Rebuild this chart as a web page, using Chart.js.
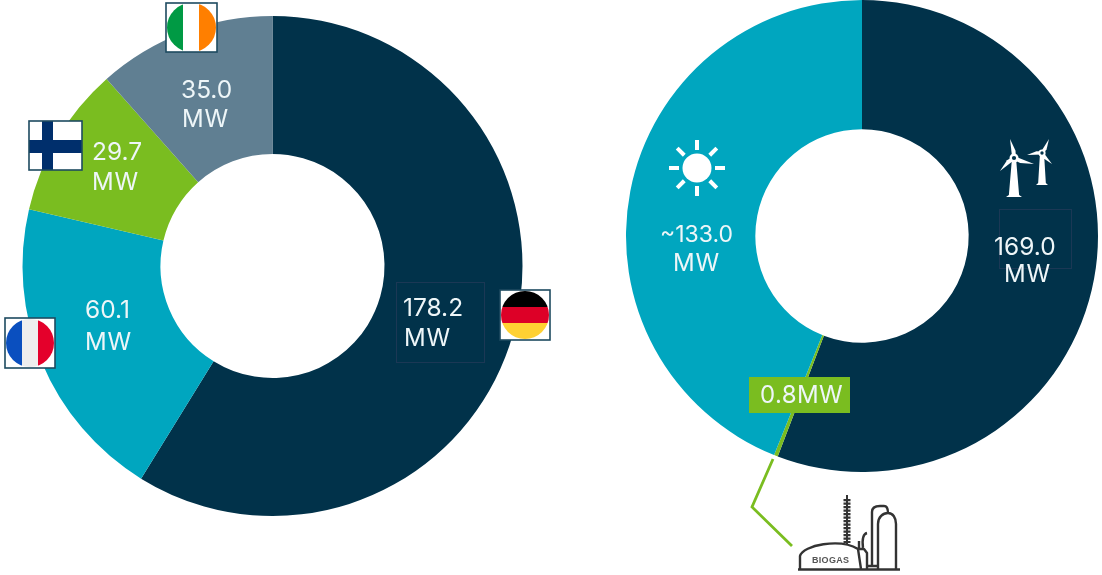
<!DOCTYPE html>
<html>
<head>
<meta charset="utf-8">
<style>
  html, body { margin: 0; padding: 0; background: #fff; overflow: hidden; }
  canvas { position: absolute; top: 0; }
  #countryChart { left: 0; }
  #sourceChart { left: 600px; }
</style>
<script src="https://cdn.jsdelivr.net/npm/chart.js@4"></script>
</head>
<body>
<canvas id="countryChart" width="600" height="575"></canvas>
<canvas id="sourceChart" width="502" height="575"></canvas>
<script>
const countries = ["Germany", "France", "Finland", "Ireland"];
const countryValues = [178.2, 60.1, 29.7, 35.0];
const countryLabels = ["178.2", "60.1", "29.7", "35.0"];

const sources = ["Wind", "Biogas", "Solar"];
const sourceValues = [169.0, 0.8, 133.0];
const sourceLabels = ["169.0", "0.8MW", "~133.0"];
const unit = "MW";

const DARK = "#01324a";
const TEAL = "#00a6bf";
const GREEN = "#7abd20";
const GREY = "#607f92";
const FRAME = "#1d4a60";
const TEXT = "#eef6f8";
const FAMILY = "Inter, 'Liberation Sans', sans-serif";

function twoLines(ctx, top, bottom, size) {
  ctx.font = size + "px " + FAMILY;
  ctx.fillStyle = TEXT;
  ctx.textAlign = "left";
  ctx.textBaseline = "alphabetic";
  ctx.letterSpacing = "0px";
  ctx.fillText(top[0], top[1], top[2]);
  ctx.font = "24px " + FAMILY;
  ctx.letterSpacing = "0.8px";
  ctx.fillText(unit, bottom[0], bottom[1]);
  ctx.letterSpacing = "0px";
}

// flag inside a framed white box, clip is the round flag part
function flag(ctx, x, y, w, h, round, paint) {
  ctx.save();
  ctx.fillStyle = "#fff";
  ctx.fillRect(x, y, w, h);
  ctx.save();
  if (round) {
    ctx.beginPath();
    ctx.arc(x + w / 2, y + h / 2, w / 2 - 1, 0, Math.PI * 2);
    ctx.clip();
  }
  paint();
  ctx.restore();
  ctx.strokeStyle = FRAME;
  ctx.lineWidth = 1.6;
  ctx.strokeRect(x, y, w, h);
  ctx.restore();
}

function drawFlags(ctx) {
  flag(ctx, 166, 3, 51, 49, true, () => {
    ctx.fillStyle = "#009a44"; ctx.fillRect(166, 3, 17, 49);
    ctx.fillStyle = "#ffffff"; ctx.fillRect(183, 3, 16, 49);
    ctx.fillStyle = "#ff7f00"; ctx.fillRect(199, 3, 18, 49);
  });
  flag(ctx, 29, 121, 53, 49, false, () => {
    ctx.fillStyle = "#002f6c";
    ctx.fillRect(42, 121, 11, 49);
    ctx.fillRect(29, 140, 53, 13);
  });
  flag(ctx, 5, 318, 50, 50, true, () => {
    ctx.fillStyle = "#0a4fbf"; ctx.fillRect(5, 318, 17, 50);
    ctx.fillStyle = "#eeeeee"; ctx.fillRect(22, 318, 16, 50);
    ctx.fillStyle = "#e4002b"; ctx.fillRect(38, 318, 17, 50);
  });
  flag(ctx, 500, 290, 50, 50, true, () => {
    ctx.fillStyle = "#000000"; ctx.fillRect(500, 290, 50, 17);
    ctx.fillStyle = "#dd0027"; ctx.fillRect(500, 307, 50, 16);
    ctx.fillStyle = "#ffd133"; ctx.fillRect(500, 323, 50, 17);
  });
}

function drawSun(ctx) {
  const cx = 97, cy = 168;
  ctx.fillStyle = "#fff";
  ctx.beginPath();
  ctx.arc(cx, cy, 14.5, 0, Math.PI * 2);
  ctx.fill();
  ctx.strokeStyle = "#fff";
  ctx.lineWidth = 4;
  for (let i = 0; i < 8; i++) {
    const a = i * Math.PI / 4;
    ctx.beginPath();
    ctx.moveTo(cx + Math.cos(a) * 18, cy + Math.sin(a) * 18);
    ctx.lineTo(cx + Math.cos(a) * 28, cy + Math.sin(a) * 28);
    ctx.stroke();
  }
}

function turbine(ctx, hx, hy, tips, baseY, baseW, bladeW) {
  ctx.fillStyle = "#fff";
  ctx.beginPath();
  ctx.moveTo(hx - 2, hy);
  ctx.lineTo(hx + 2, hy);
  ctx.lineTo(hx + baseW * 0.32, baseY - 2);
  ctx.lineTo(hx + baseW / 2, baseY);
  ctx.lineTo(hx - baseW / 2, baseY);
  ctx.lineTo(hx - baseW * 0.32, baseY - 2);
  ctx.closePath();
  ctx.fill();
  for (const t of tips) {
    const dx = t[0] - hx, dy = t[1] - hy;
    const len = Math.hypot(dx, dy);
    const nx = -dy / len * bladeW, ny = dx / len * bladeW;
    ctx.beginPath();
    ctx.moveTo(hx + nx * 0.6, hy + ny * 0.6);
    ctx.lineTo(hx + dx * 0.35 + nx, hy + dy * 0.35 + ny);
    ctx.lineTo(t[0], t[1]);
    ctx.lineTo(hx - nx * 0.6, hy - ny * 0.6);
    ctx.closePath();
    ctx.fill();
  }
  ctx.beginPath();
  ctx.arc(hx, hy, bladeW * 1.5, 0, Math.PI * 2);
  ctx.fill();
  ctx.fillStyle = DARK;
  ctx.beginPath();
  ctx.arc(hx, hy, bladeW * 0.7, 0, Math.PI * 2);
  ctx.fill();
}

function drawBiogas(ctx) {
  const ink = "#333333";
  ctx.strokeStyle = ink;
  ctx.lineWidth = 2.4;
  ctx.lineJoin = "round";
  ctx.beginPath();
  ctx.moveTo(198, 569.5);
  ctx.lineTo(300, 569.5);
  ctx.stroke();
  // dome and small vessel
  ctx.beginPath();
  ctx.moveTo(200, 569);
  ctx.lineTo(200, 556);
  ctx.bezierCurveTo(203, 545, 240, 538, 258, 549);
  ctx.lineTo(261, 569);
  ctx.moveTo(258, 549);
  ctx.lineTo(264, 549);
  ctx.lineTo(267, 553);
  ctx.lineTo(267, 569);
  ctx.moveTo(259, 549);
  ctx.lineTo(259, 541);
  ctx.moveTo(263, 548);
  ctx.bezierCurveTo(262, 540, 263, 534, 267, 533);
  ctx.stroke();
  // tall tanks
  ctx.beginPath();
  ctx.moveTo(272, 566);
  ctx.lineTo(272, 512);
  ctx.bezierCurveTo(272, 507, 276, 506, 280, 506);
  ctx.lineTo(284, 506);
  ctx.bezierCurveTo(287, 506, 288, 510, 288, 513);
  ctx.moveTo(268, 566);
  ctx.lineTo(278, 566);
  ctx.moveTo(278, 569);
  ctx.lineTo(278, 524);
  ctx.bezierCurveTo(278, 517, 283, 513, 288, 513);
  ctx.bezierCurveTo(293, 513, 296, 518, 296, 524);
  ctx.lineTo(296, 569);
  ctx.stroke();
  // stack
  ctx.lineWidth = 2;
  ctx.beginPath();
  ctx.moveTo(247, 495);
  ctx.lineTo(247, 545);
  ctx.stroke();
  ctx.lineWidth = 7;
  ctx.setLineDash([2.2, 1.3]);
  ctx.beginPath();
  ctx.moveTo(247, 499);
  ctx.lineTo(247, 543);
  ctx.stroke();
  ctx.setLineDash([]);
  ctx.fillStyle = "#555";
  ctx.font = "bold 9px 'Liberation Sans', sans-serif";
  ctx.textAlign = "left";
  ctx.letterSpacing = "0.3px";
  ctx.fillText("BIOGAS", 212, 563);
  ctx.letterSpacing = "0px";
}

const countryOverlay = {
  id: "countryOverlay",
  afterDatasetsDraw(chart) {
    const ctx = chart.ctx;
    ctx.save();
    ctx.strokeStyle = "#1b3855";
    ctx.lineWidth = 1;
    ctx.strokeRect(396.5, 282.5, 88, 80);
    twoLines(ctx, [countryLabels[0], 403, 316], [404, 346], 24.5);
    twoLines(ctx, [countryLabels[1], 85, 318], [85, 350], 24.5);
    twoLines(ctx, [countryLabels[2], 92, 160], [92, 190], 24.5);
    twoLines(ctx, [countryLabels[3], 181, 98], [182, 127], 24.5);
    drawFlags(ctx);
    ctx.restore();
  }
};

const sourceOverlay = {
  id: "sourceOverlay",
  afterDatasetsDraw(chart) {
    const ctx = chart.ctx;
    ctx.save();
    ctx.strokeStyle = "#1b3855";
    ctx.lineWidth = 1;
    ctx.strokeRect(399.5, 209.5, 72, 59);
    twoLines(ctx, [sourceLabels[0], 394, 255], [404, 282], 24.5);
    twoLines(ctx, [sourceLabels[2], 60, 242], [73, 271], 23);
    drawSun(ctx);
    turbine(ctx, 414, 158, [[410, 139], [434, 164], [400, 171]], 197, 16, 3);
    turbine(ctx, 442, 153, [[449, 139], [427, 155], [452, 164]], 185, 12, 2.4);

    // biogas callout
    ctx.strokeStyle = GREEN;
    ctx.lineWidth = 2.8;
    ctx.beginPath();
    ctx.moveTo(173, 459);
    ctx.lineTo(152, 507);
    ctx.lineTo(192, 546);
    ctx.stroke();
    ctx.fillStyle = GREEN;
    ctx.fillRect(149, 377, 101, 36);
    ctx.fillStyle = TEXT;
    ctx.font = "24px " + FAMILY;
    ctx.textAlign = "left";
    ctx.letterSpacing = "0.4px";
    ctx.fillText(sourceLabels[1], 160, 403);
    ctx.letterSpacing = "0px";
    drawBiogas(ctx);
    ctx.restore();
  }
};

function donut(id, labels, values, colors, cutout, padding, overlay) {
  return new Chart(document.getElementById(id), {
    type: "doughnut",
    data: {
      labels: labels,
      datasets: [{ data: values, backgroundColor: colors, borderWidth: 0 }]
    },
    options: {
      responsive: false,
      animation: false,
      cutout: cutout,
      layout: { padding: padding },
      plugins: { legend: { display: false }, tooltip: { enabled: false } }
    },
    plugins: [overlay]
  });
}

donut("countryChart", countries, countryValues, [DARK, TEAL, GREEN, GREY], "44.8%",
  { left: 22.5, right: 77.5, top: 16, bottom: 59 }, countryOverlay);
donut("sourceChart", sources, sourceValues, [DARK, GREEN, TEAL], "45.2%",
  { left: 26, right: 4, top: 0, bottom: 103 }, sourceOverlay);
</script>
</body>
</html>
